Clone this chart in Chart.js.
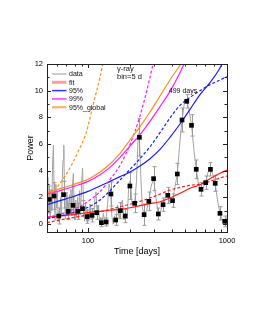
<!DOCTYPE html>
<html>
<head>
<meta charset="utf-8">
<style>
  html, body { margin: 0; padding: 0; background: #fff; }
  #wrap { width: 255px; height: 330px; }
</style>
<script src="https://cdn.jsdelivr.net/npm/chart.js@4.4.1/dist/chart.umd.min.js"></script>
</head>
<body>
<div id="wrap"><canvas id="powerChart" width="255" height="330"></canvas></div>
<script>
// Periodogram (grey "data" line), period in days
const DATA_PERIOD = [
  50.7, 51.4, 52.1, 52.8, 53.5, 54.2, 54.9, 55.6, 56.4, 57.1, 57.9, 58.7, 59.4, 60.2, 61.0, 61.8,
  62.7, 63.5, 64.4, 65.2, 66.1, 67.0, 67.9, 68.8, 69.7, 70.6, 71.5, 72.5, 73.5, 74.5, 75.4, 76.4,
  77.5, 78.5, 79.6, 80.6, 81.7, 82.8, 84.2, 85.6, 87.0, 88.5, 89.9, 91.4, 93.0, 94.5, 96.1, 97.7,
  99.3, 101.3, 103.4, 105.4, 107.6, 109.7, 111.9, 114.2, 116.5, 118.8, 121.2, 123.6, 126.1, 129.1,
  132.1, 135.2, 138.4, 141.6, 145.0, 148.4, 151.8, 155.4, 159.0, 163.3, 167.7, 172.2, 176.8, 181.5,
  186.4, 191.4, 196.6, 201.9, 207.3, 216.5, 223.3, 230.0, 234.2, 240.0, 246.0, 253.3, 263.6, 274.0,
  284.0, 296.4, 306.0, 320.6, 333.0, 346.7, 361.0, 375.1, 390.0, 405.7, 422.6, 438.9, 457.0, 474.7,
  494.0, 513.5, 533.0, 555.5, 578.9, 600.8, 623.6, 649.9, 672.0, 703.0, 730.0, 760.3, 793.0, 822.5,
  854.0, 889.6, 925.0, 962.3, 990.0
];
const DATA_POWER = [
  1.2, 3.5, 0.8, 2.0, 0.4, 2.6, 1.0, 4.5, 5.9, 2.0, 0.3, 3.0, 1.2, 2.4, 0.2, 1.0,
  0.3, 2.0, 0.6, 3.2, 4.8, 5.9, 1.5, 0.4, 2.4, 0.6, 1.8, 0.3, 2.2, 0.8, 2.6, 0.6,
  3.0, 3.8, 1.0, 0.3, 1.8, 0.5, 2.0, 0.4, 2.5, 0.7, 3.0, 4.2, 1.2, 0.2, 1.6, 0.2,
  1.1, 0.2, 1.5, 0.3, 1.2, 0.4, 1.8, 2.4, 0.6, 1.4, 0.1, 0.5, 0.0, 0.8,
  0.1, 0.4, 1.5, 3.0, 2.6, 0.6, 0.0, 0.6, 0.2, 1.4, 0.4, 1.4, 1.8, 0.3,
  0.8, 0.4, 3.0, 3.3, 1.6, 1.55, 3.2, 6.8, 6.5, 3.5, 1.2, 0.7, 1.0, 1.7,
  2.8, 3.4, 2.2, 0.75, 1.0, 1.45, 2.0, 2.15, 1.6, 1.75, 2.8, 3.75, 6.0, 7.8,
  9.1, 9.2, 8.6, 7.4, 5.5, 4.1, 3.0, 2.6, 2.7, 3.1, 3.9, 4.1, 3.7, 3.05,
  1.8, 0.8, 0.3, 0.2, 0.5
];

// Binned points (black squares) with error bars
const BIN_PERIOD = [
  52.7, 57.0, 61.6, 66.7, 72.1, 78.0, 84.4, 91.3, 98.7, 106.8, 115.5, 124.9, 135.1, 146.2,
  158.1, 171.1, 185.0, 200.1, 216.5, 234.2, 253.3, 274.0, 296.4, 320.6, 346.7, 375.1, 405.7,
  438.9, 474.7, 513.5, 555.5, 600.8, 649.9, 703.0, 760.3, 822.5, 889.6, 962.3
];
const BIN_POWER = [
  1.85, 2.1, 0.6, 2.2, 0.95, 1.4, 0.95, 1.15, 0.55, 0.65, 0.85, 0.1, 0.15, 2.25,
  0.3, 1.0, 0.6, 2.85, 1.55, 6.5, 0.7, 1.7, 3.4, 0.75, 1.45, 2.15, 1.75,
  3.75, 7.8, 9.2, 7.4, 4.1, 2.6, 3.1, 4.1, 3.05, 0.8, 0.2
];
const BIN_ERR = [
  1.0, 1.0, 0.6, 1.0, 0.6, 0.7, 0.6, 0.6, 0.5, 0.5, 0.5, 0.3, 0.3, 0.9,
  0.4, 0.6, 0.5, 1.0, 0.7, 1.4, 0.8, 0.7, 0.9, 0.45, 0.5, 0.6, 0.5,
  0.8, 0.9, 0.5, 0.8, 0.7, 0.5, 0.5, 0.5, 0.6, 0.5, 0.4
];

// Model curves (solid = one model, dashed = the other)
const CURVE_PERIOD = [50.7, 62.9, 80.6, 100, 122, 144, 170, 200.5, 236.6, 279.3, 329.6, 388.9, 459, 541.9, 639.5, 754.6, 890.5, 1000];
const FIT_POWER       = [0.5, 0.6, 0.72, 0.85, 0.95, 1.03, 1.1, 1.22, 1.38, 1.52, 1.67, 1.95, 2.3, 2.68, 2.95, 3.4, 3.8, 4.05];
const FIT_DASH_POWER  = [0.1, 0.3, 0.5, 0.7, 0.9, 1.1, 1.3, 1.48, 1.7, 1.95, 2.25, 2.55, 2.75, 2.9, 3.0, 3.2, 3.45, 3.6];
const C95_DASH_POWER  = [0.4, 0.6, 0.9, 1.25, 1.8, 2.5, 3.3, 4.1, 4.9, 5.8, 6.85, 7.95, 8.9, 9.5, 10.0, 10.45, 10.8, 11.05];

const C95_PERIOD = [50.7, 62.9, 80.6, 100, 122, 144, 170, 200.5, 236.6, 279.3, 329.6, 388.9, 459, 541.9, 639.5, 754.6, 890.5, 921];
const C95_POWER  = [1.45, 1.75, 2.1, 2.45, 2.85, 3.2, 3.55, 3.9, 4.35, 4.9, 5.6, 6.5, 7.5, 8.6, 9.7, 10.6, 11.7, 12.0];

const C99_PERIOD = [50.7, 62.9, 80.6, 100, 122, 144, 170, 200.5, 236.6, 279.3, 329.6, 388.9, 459, 490];
const C99_POWER  = [2.25, 2.5, 2.85, 3.2, 3.7, 4.25, 5.0, 5.85, 6.7, 7.7, 8.8, 9.95, 11.35, 12.0];
const C99_DASH_PERIOD = [50.7, 62.9, 80.6, 100, 122, 144, 170, 200.5, 236.6, 279.3, 293.5];
const C99_DASH_POWER  = [0.5, 0.73, 1.15, 1.69, 2.43, 3.35, 4.4, 5.97, 8.1, 11.0, 12.0];

const GLOBAL_PERIOD = [50.7, 62.9, 80.6, 100, 122, 144, 170, 200.5, 236.6, 279.3, 329.6, 388.9, 466.7];
const GLOBAL_POWER  = [2.35, 2.65, 3.0, 3.35, 3.9, 4.5, 5.3, 6.3, 7.3, 8.4, 9.6, 10.8, 12.0];
const GLOBAL_DASH_PERIOD = [50.7, 56.9, 65.0, 74.2, 84.7, 96.7, 110.4, 122.0, 128.2];
const GLOBAL_DASH_POWER  = [2.0, 2.5, 3.25, 4.2, 5.4, 6.8, 9.2, 11.0, 12.1];

// Axes
const X_TICKS = [100, 1000];
const X_MINOR = [60, 70, 80, 90, 200, 300, 400, 500, 600, 700, 800, 900];
const Y_TICKS = [0, 2, 4, 6, 8, 10, 12];
const Y_MINOR = [1, 3, 5, 7, 9, 11];

const LEGEND_LABELS = ['data', 'fit', '95%', '99%', '95%_global'];
const NOTE_LINES = ['\u03b3-ray', 'bin=5 d'];
const PEAK_LABEL = '499 days';
const PEAK_PERIOD = 499;

(function() {
    'use strict';

    const FONT = '"Liberation Sans", Arial, sans-serif';
    const RED = '#ff1a1a', BLUE = '#1a1aff', MAGENTA = '#ff1aff', ORANGE = '#ff8c1a';

    function pts(xs, ys) {
        return xs.map((v, i) => ({ x: v, y: ys[i] }));
    }

    function curve(xs, ys, color, dashed, order) {
        return {
            data: pts(xs, ys),
            borderColor: color,
            borderWidth: 1.2,
            borderDash: dashed ? [3, 2] : [],
            pointRadius: 0,
            cubicInterpolationMode: 'monotone',
            fill: false,
            clip: 0,
            order: order
        };
    }

    // grey error bars, drawn right after the grey data line
    const errorBars = {
        id: 'errorBars',
        afterDatasetDraw(chart, args) {
            if (args.index !== 0) return;
            const { ctx, scales: { x, y } } = chart;
            ctx.save();
            ctx.strokeStyle = '#9a9a9a';
            ctx.lineWidth = 1;
            BIN_PERIOD.forEach((p, i) => {
                const px = Math.round(x.getPixelForValue(p)) + 0.5;
                const top = y.getPixelForValue(BIN_POWER[i] + BIN_ERR[i]);
                const bot = y.getPixelForValue(BIN_POWER[i] - BIN_ERR[i]);
                ctx.beginPath();
                ctx.moveTo(px, top); ctx.lineTo(px, bot);
                ctx.moveTo(px - 2, top); ctx.lineTo(px + 2, top);
                ctx.moveTo(px - 2, bot); ctx.lineTo(px + 2, bot);
                ctx.stroke();
            });
            ctx.restore();
        }
    };

    // frame with inward ticks on all four sides
    const frameTicks = {
        id: 'frameTicks',
        afterDatasetsDraw(chart) {
            const { ctx, chartArea: a, scales: { x, y } } = chart;
            ctx.save();
            ctx.strokeStyle = '#222';
            ctx.lineWidth = 1;
            ctx.strokeRect(Math.round(a.left) + 0.5, Math.round(a.top) + 0.5,
                Math.round(a.right - a.left), Math.round(a.bottom - a.top));
            ctx.beginPath();
            const xt = (v, len) => {
                const px = Math.round(x.getPixelForValue(v)) + 0.5;
                ctx.moveTo(px, a.bottom); ctx.lineTo(px, a.bottom - len);
                ctx.moveTo(px, a.top); ctx.lineTo(px, a.top + len);
            };
            const yt = (v, len) => {
                const py = Math.round(y.getPixelForValue(v)) + 0.5;
                ctx.moveTo(a.left, py); ctx.lineTo(a.left + len, py);
                ctx.moveTo(a.right, py); ctx.lineTo(a.right - len, py);
            };
            X_TICKS.forEach(v => xt(v, 4));
            X_MINOR.forEach(v => xt(v, 2.5));
            Y_TICKS.forEach(v => yt(v, 4));
            Y_MINOR.forEach(v => yt(v, 2.5));
            ctx.stroke();
            ctx.restore();
        }
    };

    // legend and text notes inside the plot
    const notes = {
        id: 'notes',
        afterDraw(chart) {
            const { ctx, chartArea: a, scales: { x, y } } = chart;
            const styles = [
                { color: '#999999', width: 1 },
                { color: 'rgba(255, 90, 90, 0.6)', width: 3 },
                { color: '#3333ff', width: 1.5 },
                { color: '#ff33ff', width: 1.5 },
                { color: 'rgba(255, 150, 50, 0.75)', width: 2.2 }
            ];
            ctx.save();
            ctx.font = '7px ' + FONT;
            ctx.textBaseline = 'middle';
            ctx.fillStyle = '#111';
            LEGEND_LABELS.forEach((label, i) => {
                const ly = a.top + 10 + i * 8.3;
                ctx.beginPath();
                ctx.strokeStyle = styles[i].color;
                ctx.lineWidth = styles[i].width;
                ctx.moveTo(a.left + 5, ly);
                ctx.lineTo(a.left + 19.5, ly);
                ctx.stroke();
                ctx.fillText(label, a.left + 22, ly + 0.5);
            });

            ctx.font = '7.5px ' + FONT;
            NOTE_LINES.forEach((t, i) => {
                ctx.fillText(t, a.left + 70, a.top + 5 + i * 7.5);
            });

            ctx.font = '7px ' + FONT;
            ctx.textAlign = 'center';
            ctx.fillText(PEAK_LABEL, x.getPixelForValue(PEAK_PERIOD) - 2, y.getPixelForValue(10.0));
            ctx.restore();
        }
    };

    const canvas = document.getElementById('powerChart');

    new Chart(canvas.getContext('2d'), {
        type: 'line',
        data: {
            datasets: [
                {
                    data: pts(DATA_PERIOD, DATA_POWER),
                    borderColor: '#a3a3a3',
                    borderWidth: 1,
                    pointRadius: 0,
                    tension: 0,
                    fill: false,
                    clip: 0,
                    order: 20
                },
                curve(CURVE_PERIOD, FIT_POWER, RED, false, 8),
                curve(CURVE_PERIOD, FIT_DASH_POWER, RED, true, 7),
                curve(C95_PERIOD, C95_POWER, BLUE, false, 6),
                curve(CURVE_PERIOD, C95_DASH_POWER, BLUE, true, 5),
                curve(C99_PERIOD, C99_POWER, MAGENTA, false, 4),
                curve(C99_DASH_PERIOD, C99_DASH_POWER, MAGENTA, true, 3),
                curve(GLOBAL_PERIOD, GLOBAL_POWER, ORANGE, false, 2),
                curve(GLOBAL_DASH_PERIOD, GLOBAL_DASH_POWER, ORANGE, true, 1),
                {
                    data: pts(BIN_PERIOD, BIN_POWER),
                    showLine: false,
                    pointStyle: 'rect',
                    pointRadius: 3.3,
                    backgroundColor: '#000',
                    borderColor: '#000',
                    borderWidth: 0,
                    clip: 0,
                    order: 0
                }
            ]
        },
        options: {
            responsive: false,
            animation: false,
            layout: { padding: { left: 25, right: 28, top: 64, bottom: 73 } },
            plugins: {
                legend: { display: false },
                tooltip: { enabled: false }
            },
            scales: {
                x: {
                    type: 'logarithmic',
                    min: 50.7,
                    max: 1000,
                    afterFit: s => { s.height = 25; },
                    afterBuildTicks: s => { s.ticks = X_TICKS.map(v => ({ value: v })); },
                    grid: { display: false, drawTicks: false },
                    border: { display: false },
                    ticks: {
                        autoSkip: false,
                        maxRotation: 0,
                        padding: 4,
                        color: '#000',
                        font: { family: FONT, size: 7.5 },
                        callback: v => String(v)
                    },
                    title: {
                        display: true,
                        text: 'Time [days]',
                        color: '#000',
                        padding: 0,
                        font: { family: FONT, size: 9 }
                    }
                },
                y: {
                    type: 'linear',
                    min: -0.6,
                    max: 12,
                    afterFit: s => { s.width = 22; },
                    afterBuildTicks: s => { s.ticks = Y_TICKS.map(v => ({ value: v })); },
                    grid: { display: false, drawTicks: false },
                    border: { display: false },
                    ticks: {
                        padding: 4,
                        color: '#000',
                        font: { family: FONT, size: 7.5 }
                    },
                    title: {
                        display: true,
                        text: 'Power',
                        color: '#000',
                        padding: 0,
                        font: { family: FONT, size: 9 }
                    }
                }
            }
        },
        plugins: [errorBars, frameTicks, notes]
    });
})();
</script>
</body>
</html>
